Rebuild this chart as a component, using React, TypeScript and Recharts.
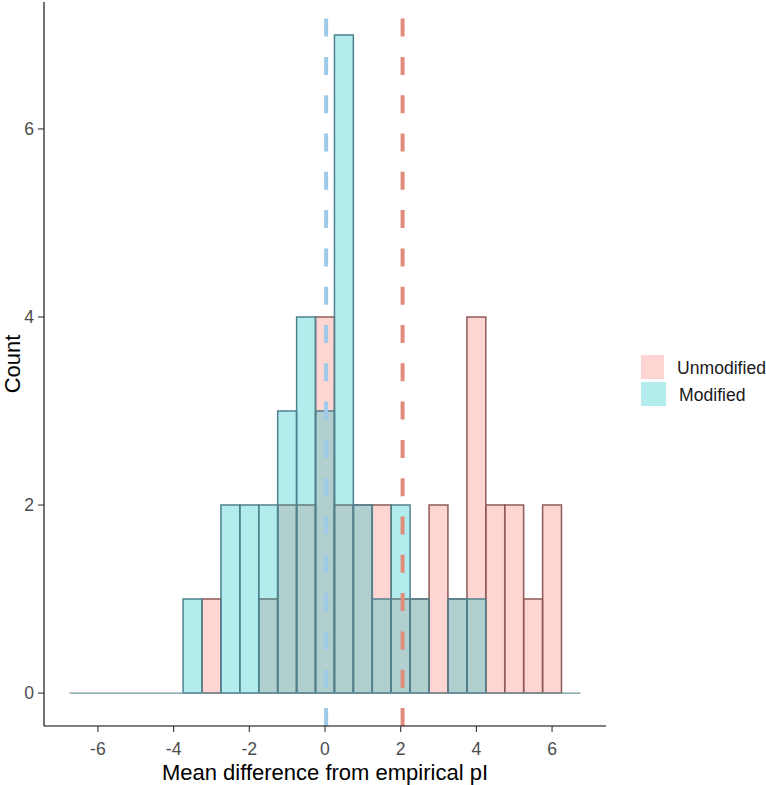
import { ComposedChart, Bar, XAxis, YAxis, ReferenceLine, Legend, Label } from "recharts";

// histogram bins (width 0.5), centres
const binCenters = [
  -6.5, -6, -5.5, -5, -4.5, -4, -3.5, -3, -2.5, -2, -1.5, -1, -0.5, 0, 0.5, 1, 1.5, 2, 2.5, 3, 3.5, 4, 4.5, 5,
  5.5, 6, 6.5,
];
const unmodifiedCounts = [0, 0, 0, 0, 0, 0, 0, 1, 0, 0, 1, 2, 2, 4, 2, 2, 2, 1, 1, 2, 1, 4, 2, 2, 1, 2, 0];
const modifiedCounts = [0, 0, 0, 0, 0, 0, 1, 0, 2, 2, 2, 3, 4, 3, 7, 2, 1, 2, 1, 0, 1, 1, 0, 0, 0, 0, 0];
const seriesNames = ["Unmodified", "Modified"];
const meanUnmodified = 2.05;
const meanModified = 0.03;
const xTicks = [-6, -4, -2, 0, 2, 4, 6];
const yTicks = [0, 2, 4, 6];

const binWidth = 0.5;
const xDomain: [number, number] = [-7.425, 7.425];
const yDomain: [number, number] = [-0.35, 7.35];

const W = 766;
const H = 785;
const margin = { top: 2, right: 160, bottom: 0, left: 0 };
const yAxisWidth = 44;
const xAxisHeight = 59;
const plotWidth = W - margin.left - margin.right - yAxisWidth;
// a hair under the bin width so recharts doesn't shrink bars to 90%
const barSize = (binWidth / (xDomain[1] - xDomain[0])) * plotWidth - 0.05;

const FONT = '"Liberation Sans", Arial, sans-serif';
const PINK = "#F8766D";
const CYAN = "#00BFC4";

const data = binCenters.map((x, i) => ({
  x,
  Unmodified: unmodifiedCounts[i],
  Modified: modifiedCounts[i],
}));

const tickStyle = { fill: "#4D4D4D", fontSize: 17.6, fontFamily: FONT };

function LegendBox() {
  const keys = [
    { name: seriesNames[0], color: "#FDD6D3" },
    { name: seriesNames[1], color: "#B3ECED" },
  ];
  return (
    <div style={{ fontFamily: FONT, fontSize: 17.6, color: "#1A1A1A" }}>
      {keys.map((k) => (
        <div key={k.name} style={{ display: "flex", alignItems: "center", height: 27 }}>
          <div style={{ width: 25, height: 24, background: k.color }} />
          <span style={{ marginLeft: 13, position: "relative", top: 2 }}>{k.name}</span>
        </div>
      ))}
    </div>
  );
}

export default function App() {
  const first = binCenters[0] - binWidth / 2;
  const last = binCenters[binCenters.length - 1] + binWidth / 2;
  return (
    <div style={{ position: "absolute", left: 0, top: 0, background: "#fff" }}>
      <ComposedChart width={W} height={H} data={data} margin={margin}>
        <XAxis
          xAxisId="unmod"
          type="number"
          dataKey="x"
          domain={xDomain}
          ticks={xTicks}
          allowDataOverflow
          height={xAxisHeight}
          tick={tickStyle}
          tickSize={6}
          tickMargin={11}
          tickLine={{ stroke: "#333333", strokeWidth: 1.1 }}
          axisLine={{ stroke: "#000000", strokeWidth: 1.1 }}
        >
          <Label
            value="Mean difference from empirical pI"
            position="insideBottom"
            offset={5}
            style={{ fill: "#000", fontSize: 22, fontFamily: FONT }}
          />
        </XAxis>
        <XAxis xAxisId="mod" type="number" dataKey="x" domain={xDomain} allowDataOverflow hide height={0} />
        <YAxis
          type="number"
          domain={yDomain}
          ticks={yTicks}
          allowDataOverflow
          width={yAxisWidth}
          tick={tickStyle}
          tickSize={6}
          tickMargin={4}
          tickLine={{ stroke: "#333333", strokeWidth: 1.1 }}
          axisLine={{ stroke: "#000000", strokeWidth: 1.1 }}
        >
          <Label
            value="Count"
            angle={-90}
            position="insideLeft"
            offset={12}
            style={{ fill: "#000", fontSize: 22, fontFamily: FONT, textAnchor: "middle" }}
          />
        </YAxis>
        <Legend
          layout="vertical"
          align="center"
          verticalAlign="middle"
          wrapperStyle={{ left: 641, top: 353, width: 125 }}
          content={() => <LegendBox />}
        />
        <ReferenceLine
          xAxisId="unmod"
          segment={[
            { x: first, y: 0 },
            { x: last, y: 0 },
          ]}
          stroke="#6F95A0"
          strokeWidth={1.4}
        />
        <Bar
          xAxisId="unmod"
          dataKey="Unmodified"
          barSize={barSize}
          fill={PINK}
          fillOpacity={0.3}
          stroke="#8E5A57"
          strokeWidth={1.5}
          isAnimationActive={false}
        />
        <Bar
          xAxisId="mod"
          dataKey="Modified"
          barSize={barSize}
          fill={CYAN}
          fillOpacity={0.3}
          stroke="#50818F"
          strokeWidth={1.5}
          isAnimationActive={false}
        />
        <ReferenceLine
          xAxisId="unmod"
          x={meanModified}
          stroke="#9EC9E8"
          strokeWidth={4}
          strokeDasharray="18 20.3"
        />
        <ReferenceLine
          xAxisId="unmod"
          x={meanUnmodified}
          stroke="#E08B7B"
          strokeWidth={4}
          strokeDasharray="18 20.3"
        />
      </ComposedChart>
    </div>
  );
}
